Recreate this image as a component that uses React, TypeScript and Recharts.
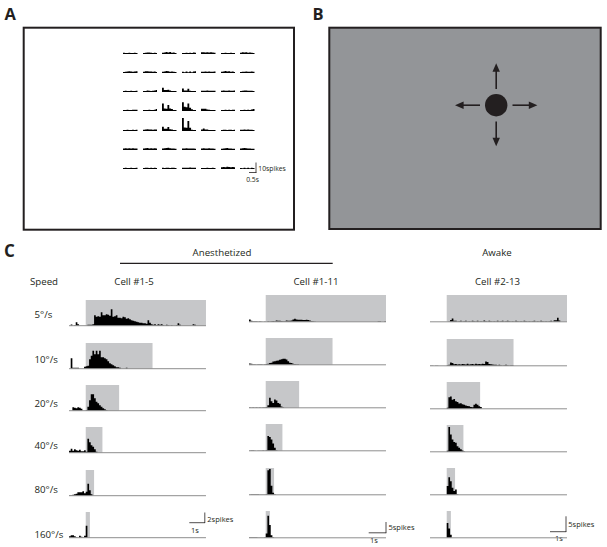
import React from "react";
import { ComposedChart, Area, XAxis, YAxis, ReferenceArea, ReferenceLine } from "recharts";

// ---------- Panel C data ----------
const SPEED_LABELS = ["5°/s", "10°/s", "20°/s", "40°/s", "80°/s", "160°/s"];
const STIM_DURATION_S = [7.2, 4, 2, 1, 0.5, 0.25];
const CELL_NAMES = ["Cell #1-5", "Cell #1-11", "Cell #2-13"];
const CONDITION_LABELS = ["Anesthetized", "Awake"];
const SCALE_LABELS = ["2spikes", "5spikes", "5spikes"];
const BIN_S = 0.1;
const PRE_S = -1;
const WINDOW_END_S = 7.2;

// Cell #1-5 (spikes per 0.1 s bin, starting at -1 s)
const cellA_5 = [0, 0.25, 0, 0.1, 0.7, 0.3, 0, 0, 0, 0, 0, 0.2, 0.2, 0.2, 0.3, 2.1, 1.8, 1.9, 1.8, 2.7, 2.1, 2.1, 2.3, 2.2, 2.0, 3.3, 1.8, 1.9, 2.1, 1.6, 1.6, 1.5, 1.8, 1.7, 1.4, 1.5, 1.3, 1.1, 1.0, 0.9, 0.8, 0.7, 0.6, 0.6, 0.5, 0.5, 0.4, 1.1, 0.6, 0.3, 0.2, 0.3, 0.1, 0.3, 0.2, 0.3, 0.1, 0, 0.2, 0.1, 0, 0.1, 0, 0, 0.1, 0.5, 0.2, 0, 0, 0, 0, 0, 0, 0, 0.3, 0.2];
const cellA_10 = [0, 2.1, 0.2, 0.2, 0.2, 0.2, 0, 0, 0, 0.4, 0.5, 0.6, 1.9, 2.6, 3.6, 2.9, 3.6, 2.9, 3.6, 2.3, 2.3, 2.1, 1.9, 1.5, 1.1, 0.9, 0.7, 0.5, 0.3, 0.3, 0.2, 0, 0, 0, 0.2];
const cellA_20 = [0, 0, 0.7, 0.6, 0.5, 0.7, 0.6, 0.4, 0, 0, 0.1, 0.8, 2.1, 3.3, 3.3, 2.5, 1.8, 1.5, 1.1, 0.8, 0.5, 0.3, 0.1];
const cellA_40 = [0.4, 0.8, 0.4, 0.7, 0.5, 0.4, 0.6, 0.3, 0.3, 0.5, 0.2, 2.8, 2.1, 1.5, 1.2, 0.7, 0.2];
const cellA_80 = [0.1, 0.1, 0.2, 0.3, 0.4, 0.7, 0.7, 0.7, 0.9, 0.5, 0.8, 2.4, 1.1, 0.3];
const cellA_160 = [0.3, 0.5, 0.5, 0.3, 0.1, 0, 0.4, 0.2, 0.1, 0.4, 2.4, 0];

// Cell #1-11
const cellB_5 = [1.1, 0.5, 0.3, 0.3, 0.2, 0.1, 0.2, 0.1, 0, 0.1, 0, 0.2, 0.1, 0.2, 0.4, 0.3, 0.6, 0.5, 0.5, 0.4, 0.3, 0.3, 0.6, 0.5, 0.5, 0.6, 1.1, 1.4, 1.1, 1.0, 0.9, 0.9, 0.8, 0.8, 0.9, 0.8, 0.6, 0.4, 0.2, 0.1, 0, 0, 0, 0, 0, 0, 0, 0, 0, 0, 0, 0, 0, 0, 0, 0, 0, 0, 0, 0, 0, 0, 0, 0, 0, 0, 0, 0, 0, 0, 0, 0, 0, 0, 0, 0, 0, 0.3, 0.2, 0, 0, 0.3];
const cellB_10 = [0.6, 0.5, 0.3, 0.3, 0.1, 0.2, 0.3, 0.3, 0.1, 0.2, 0.4, 0.5, 0.8, 1.0, 1.5, 1.7, 1.9, 2.0, 2.4, 2.6, 2.8, 2.8, 2.5, 1.6, 1.0, 0.8, 0.5, 0.4, 0.3, 0.2];
const cellB_20 = [0.2, 0.1, 0.2, 0.1, 0.2, 0.1, 0.2, 0.1, 0.3, 0.2, 0.4, 1.2, 4.7, 3.1, 2.3, 3.9, 3.4, 2.3, 1.9, 0.6, 0.2];
const cellB_40 = [0.1, 0.2, 0.2, 0.1, 0, 0.1, 0.1, 0.1, 0.2, 0.1, 0.3, 6.9, 6.4, 5.3, 3.4, 1.4, 0.3];
const cellB_80 = [0.1, 0.3, 0.3, 0.3, 0.3, 0.2, 0.1, 0.1, 0.1, 0.1, 0.3, 11.5, 12.0, 4.2, 1.0, 0.2];
const cellB_160 = [0.3, 0.3, 0.3, 0.3, 0.2, 0.1, 0.1, 0.1, 0.1, 0.2, 2.0, 10.3, 6.0, 1.2, 0.2];

// Cell #2-13
const cellC_5 = [0, 0, 0, 0, 0, 0, 0, 0, 0, 0, 0, 0.1, 0.6, 1.1, 0.3, 0.3, 0.1, 0.2, 0.3, 0.1, 0.2, 0.3, 0.1, 0.2, 0.1, 0.3, 0.2, 0.1, 0.3, 0.1, 0.2, 0.1, 0.4, 0.2, 0.1, 0.3, 0.2, 0.1, 0.2, 0.1, 0.3, 0.1, 0.2, 0.3, 0.1, 0.2, 0.3, 0.2, 0.1, 0.2, 0.1, 0.3, 0.2, 0.1, 0.2, 0.1, 0.3, 0.2, 0.1, 0.2, 0.1, 0.2, 0.3, 0.1, 0.2, 0.1, 0.3, 0.2, 0.1, 0.2, 0.1, 0.2, 0.3, 0.1, 0.5, 0.5, 1.3, 0.4];
const cellC_10 = [0.1, 0.1, 0, 0.1, 0.1, 0, 0, 0, 0, 0, 0.2, 0.3, 1.1, 0.9, 0.5, 0.6, 0.4, 0.5, 0.4, 0.6, 0.5, 0.4, 0.7, 0.4, 0.5, 0.6, 0.4, 0.7, 0.5, 0.6, 0.5, 0.7, 0.6, 1.4, 1.2, 0.6, 0.5, 0.4, 0.3, 0.3, 0.2, 0.3, 0.2, 0.1, 0.2, 0.3, 0.2, 0.1, 0.2, 0.2];
const cellC_20 = [0, 0, 0, 0, 0, 0, 0, 0, 0, 0, 0.3, 3.7, 4.0, 2.9, 3.2, 2.4, 2.2, 1.7, 1.8, 1.5, 1.3, 1.1, 0.9, 0.8, 0.6, 0.5, 1.3, 1.6, 1.3, 0.8, 0.6];
const cellC_40 = [0, 0, 0, 0, 0, 0, 0, 0, 0, 0, 0.3, 8.0, 5.6, 4.0, 3.2, 2.9, 1.8, 1.3, 0.8, 0.4, 0.2];
const cellC_80 = [0, 0, 0, 0, 0, 0, 0, 0, 0, 0, 2.8, 5.7, 4.4, 2.3, 1.2, 1.7, 0.2];
const cellC_160 = [0, 0, 0, 0, 0, 0, 0, 0, 0, 0, 4.8, 3.0, 1.0];

const CELL_A = [cellA_5, cellA_10, cellA_20, cellA_40, cellA_80, cellA_160];
const CELL_B = [cellB_5, cellB_10, cellB_20, cellB_40, cellB_80, cellB_160];
const CELL_C = [cellC_5, cellC_10, cellC_20, cellC_40, cellC_80, cellC_160];

// ---------- Panel A data (7x7 grid of mini PSTHs, 8 bins each, spikes) ----------
const GRID_ROW1 = [[1.2, 1.1, 1.1, 1.3, 1.1, 1.1, 1.3, 1.1], [1.1, 1.3, 1.6, 1.5, 1.3, 1.1, 1.3, 1.1], [1.3, 1.6, 2.1, 1.5, 1.9, 1.3, 1.5, 1.1], [1.1, 1.1, 1.3, 1.1, 1.3, 1.1, 1.5, 1.3], [1.8, 1.8, 1.5, 1.8, 1.6, 1.7, 1.5, 1.3], [1.1, 1.1, 1.3, 1.1, 1.1, 1.3, 1.1, 1.1], [1.3, 1.8, 1.5, 1.7, 1.3, 1.6, 1.3, 1.1]];
const GRID_ROW2 = [[1.1, 1.3, 1.5, 1.8, 1.5, 1.3, 1.6, 1.8], [1.3, 1.8, 1.8, 1.5, 1.6, 1.3, 1.5, 1.1], [1.3, 1.5, 2.1, 1.8, 1.3, 1.6, 1.3, 1.1], [1.3, 0.8, 1.5, 0.8, 1.6, 0.8, 1.5, 1.8], [1.3, 1.3, 1.4, 1.3, 1.5, 1.3, 1.3, 1.5], [1.3, 1.6, 2.1, 1.5, 1.7, 1.3, 1.5, 1.1], [1.1, 1.3, 1.3, 1.5, 1.3, 1.3, 1.5, 1.3]];
const GRID_ROW3 = [[1.1, 1.3, 1.1, 1.1, 1.3, 1.1, 1.1, 1.3], [1.1, 1.1, 1.5, 1.3, 1.1, 1.3, 1.5, 2.1], [4.2, 2, 2, 2.3, 1.6, 1.1, 1, 1], [3.5, 1.5, 1.5, 3.2, 1.3, 1.1, 1, 1], [1.3, 1.3, 1.3, 1.4, 1.3, 1.3, 1.3, 1.3], [1.3, 1.5, 1.3, 1.3, 1.5, 1.3, 1.3, 1.5], [1.1, 1.3, 1.5, 1.6, 1.3, 1.3, 1.3, 1.1]];
const GRID_ROW4 = [[1.1, 1.1, 1.3, 1.1, 1.1, 1.3, 1.3, 1.3], [1.1, 1.1, 1.1, 1.3, 1.1, 1.1, 1.3, 2.1], [7.5, 2.6, 2.3, 5.9, 2.6, 2, 1.1, 1], [8.7, 4.2, 3.7, 7.5, 3.2, 1.8, 1.1, 1], [2.3, 2.3, 2.3, 1.6, 1.3, 1.1, 1, 1], [1.1, 1.1, 1.3, 1.1, 1.3, 1.1, 1.3, 1.3], [1.1, 1.1, 1.3, 1.1, 1.3, 1.1, 1.5, 2.1]];
const GRID_ROW5 = [[1.1, 1.1, 1.3, 1.1, 1.1, 1.3, 1.1, 1.3], [1.3, 1.5, 1.8, 1.5, 1.6, 1.3, 1.5, 1.5], [4.2, 2.3, 2.3, 3.9, 1.8, 1.6, 1.1, 1], [13, 3.5, 3.2, 10, 3.2, 1.3, 1.1, 1], [1.6, 2.6, 1.6, 1.6, 1.1, 1, 1, 1], [1.1, 1.3, 1.3, 1.1, 1.3, 1.3, 1.1, 1.3], [1.3, 1.3, 1.5, 1.3, 1.5, 1.3, 1.3, 1.1]];
const GRID_ROW6 = [[1.5, 1.8, 1.6, 1.8, 1.5, 1.8, 1.6, 1.5], [1.6, 1.8, 2.1, 1.6, 1.8, 1.5, 1.8, 1.5], [1.5, 1.8, 2.1, 2.3, 1.8, 1.6, 1.5, 1.3], [1.5, 1.6, 1.8, 1.6, 1.5, 1.6, 1.5, 1.3], [1.5, 1.8, 1.6, 1.5, 1.8, 1.6, 1.5, 1.3], [1.3, 1.5, 1.8, 2.1, 1.6, 1.5, 1.3, 1.3], [1.5, 1.8, 2.1, 1.8, 1.6, 1.5, 1.3, 1.3]];
const GRID_ROW7 = [[1.1, 1.3, 1.1, 1.1, 1.3, 1.1, 1.1, 1.3], [1.1, 1.3, 1.3, 1.1, 1.3, 1.1, 1.3, 1.1], [1.3, 1.1, 1.3, 1.3, 1.1, 1.3, 1.3, 1.1], [1.3, 1.3, 1.3, 1.3, 1.5, 1.3, 1.3, 1.3], [1.1, 1.1, 1.1, 1.3, 1.1, 1.1, 1.3, 1.1], [1.8, 2.1, 1.8, 2.3, 2.1, 1.8, 2.1, 1.8], [1.1, 0.8, 1.3, 0.8, 1.3, 0.8, 1.3, 1.1]];
const GRID = [GRID_ROW1, GRID_ROW2, GRID_ROW3, GRID_ROW4, GRID_ROW5, GRID_ROW6, GRID_ROW7];
const GRID_SCALE_LABELS = ["10spikes", "0.5s"];

// ---------- layout ----------
const FONT = "'Open Sans', sans-serif";
const INK = "#231f20";
const COLS = [
  { left: 69.3, baselines: [326, 368.3, 411, 452.7, 495.3, 537.3], boxH: 25.7, pxPerSpike: 5 },
  { left: 248.7, baselines: [321.3, 364.7, 408, 450.7, 495, 538], boxH: 26.8, pxPerSpike: 2.14 },
  { left: 430, baselines: [322, 365.3, 408.7, 452, 495, 538], boxH: 26.8, pxPerSpike: 3.1 },
];
const PSTH_W = 137;

function Psth({ values, dur, left, baseline, boxH, ymax }: any) {
  const data = values.map((v: number, i: number) => ({ t: PRE_S + i * BIN_S, v }));
  data.push({ t: PRE_S + values.length * BIN_S, v: 0 });
  return (
    <div style={{ position: "absolute", left, top: baseline - boxH }}>
      <ComposedChart width={PSTH_W} height={boxH + 2} data={data} margin={{ top: 0, right: 0, bottom: 2, left: 0 }}>
        <XAxis type="number" dataKey="t" domain={[PRE_S, WINDOW_END_S]} hide allowDataOverflow />
        <YAxis type="number" domain={[0, ymax]} hide allowDataOverflow />
        <ReferenceArea x1={0} x2={dur} y1={0} y2={ymax} fill="#c6c7c9" fillOpacity={1} stroke="none" />
        <ReferenceLine y={0} stroke="#8e8e8e" strokeWidth={1} />
        <Area type="stepAfter" dataKey="v" stroke="none" fill="#000" fillOpacity={1} isAnimationActive={false} dot={false} activeDot={false} />
      </ComposedChart>
    </div>
  );
}

function MiniPsth({ values, left, baseline }: any) {
  const data = values.map((v: number, i: number) => ({ t: i, v }));
  data.push({ t: values.length, v: 0 });
  const h = 15;
  return (
    <div style={{ position: "absolute", left, top: baseline - h }}>
      <ComposedChart width={14.5} height={h} data={data} margin={{ top: 0, right: 0, bottom: 0, left: 0 }}>
        <XAxis type="number" dataKey="t" domain={[0, values.length]} hide />
        <YAxis type="number" domain={[0, 15]} hide allowDataOverflow />
        <Area type="stepAfter" dataKey="v" stroke="none" fill="#000" fillOpacity={1} isAnimationActive={false} dot={false} activeDot={false} />
      </ComposedChart>
    </div>
  );
}

const SPEED_LABEL_Y = [318.3, 362.7, 406.7, 449.3, 492.7, 538.3];
const CELL_LABEL_X = [134, 316, 497.5];

export default function App() {
  const cellsData = [CELL_A, CELL_B, CELL_C];
  return (
    <div style={{ position: "absolute", left: 0, top: 0, width: 607, height: 547, background: "#fff", overflow: "hidden" }}>
      <svg width={607} height={547} style={{ position: "absolute", left: 0, top: 0 }} fontFamily={FONT}>
        {/* Panel labels */}
        <text x={4.5} y={20} fontSize={16.5} fontWeight={700} fill={INK}>A</text>
        <text x={312.5} y={20} fontSize={16.5} fontWeight={700} fill={INK}>B</text>
        <text x={4} y={257} fontSize={17} fontWeight={700} fill={INK}>C</text>

        {/* Panel A frame */}
        <rect x={23.7} y={27.7} width={270.3} height={202} fill="#fff" stroke={INK} strokeWidth={2} />
        {/* Panel A scale bar */}
        <line x1={256} y1={162.5} x2={256} y2={172.8} stroke={INK} strokeWidth={0.8} />
        <line x1={249} y1={172.5} x2={256.4} y2={172.5} stroke={INK} strokeWidth={0.8} />
        <text x={258.3} y={170.6} fontSize={6.8} fill={INK}>{GRID_SCALE_LABELS[0]}</text>
        <text x={252.6} y={181.6} fontSize={6.8} fill={INK} textAnchor="middle">{GRID_SCALE_LABELS[1]}</text>

        {/* Panel B */}
        <rect x={329.3} y={27.7} width={271.4} height={201.3} fill="#939598" stroke={INK} strokeWidth={2} />
        <circle cx={496.2} cy={105.2} r={11.2} fill={INK} />
        <line x1={496.2} y1={89} x2={496.2} y2={70} stroke={INK} strokeWidth={1.6} />
        <polygon points="496.2,63.3 492.5,71.8 499.9,71.8" fill={INK} />
        <line x1={496.2} y1={121.4} x2={496.2} y2={139} stroke={INK} strokeWidth={1.6} />
        <polygon points="496.2,146.2 492.5,137.8 499.9,137.8" fill={INK} />
        <line x1={480} y1={105.2} x2={462} y2={105.2} stroke={INK} strokeWidth={1.6} />
        <polygon points="455,105.2 463.6,101.5 463.6,108.9" fill={INK} />
        <line x1={512.5} y1={105.2} x2={530} y2={105.2} stroke={INK} strokeWidth={1.6} />
        <polygon points="537.4,105.2 528.8,101.5 528.8,108.9" fill={INK} />

        {/* Panel C headers */}
        <text x={222} y={255.6} fontSize={9.7} fill={INK} textAnchor="middle">{CONDITION_LABELS[0]}</text>
        <line x1={120} y1={263.3} x2={332.7} y2={263.3} stroke={INK} strokeWidth={1.3} />
        <text x={497} y={255.6} fontSize={9.7} fill={INK} textAnchor="middle">{CONDITION_LABELS[1]}</text>
        <text x={30} y={285.2} fontSize={9.7} fill={INK}>Speed</text>
        {CELL_NAMES.map((n, i) => (
          <text key={n} x={CELL_LABEL_X[i]} y={285.2} fontSize={9.7} fill={INK} textAnchor="middle">{n}</text>
        ))}
        {SPEED_LABELS.map((s, i) => (
          <text key={s} x={34.5} y={SPEED_LABEL_Y[i]} fontSize={9.7} fill={INK}>{s}</text>
        ))}

        {/* Panel C scale bars */}
        <line x1={189.3} y1={522.7} x2={205} y2={522.7} stroke={INK} strokeWidth={0.8} />
        <line x1={204.8} y1={512.5} x2={204.8} y2={523} stroke={INK} strokeWidth={0.8} />
        <text x={207.3} y={521.7} fontSize={7.5} fill={INK}>{SCALE_LABELS[0]}</text>
        <text x={195} y={532.5} fontSize={7.5} fill={INK} textAnchor="middle">1s</text>

        <line x1={368.7} y1={532.8} x2={386.2} y2={532.8} stroke={INK} strokeWidth={0.8} />
        <line x1={386} y1={522} x2={386} y2={533.1} stroke={INK} strokeWidth={0.8} />
        <text x={388.5} y={530.4} fontSize={7.5} fill={INK}>{SCALE_LABELS[1]}</text>
        <text x={374} y={542.7} fontSize={7.5} fill={INK} textAnchor="middle">1s</text>

        <line x1={550} y1={531.7} x2={566.2} y2={531.7} stroke={INK} strokeWidth={0.8} />
        <line x1={566} y1={516.3} x2={566} y2={532} stroke={INK} strokeWidth={0.8} />
        <text x={568.3} y={526.7} fontSize={7.5} fill={INK}>{SCALE_LABELS[2]}</text>
        <text x={559} y={541.2} fontSize={7.5} fill={INK} textAnchor="middle">1s</text>
      </svg>

      {GRID.map((row, r) =>
        row.map((vals, c) => (
          <MiniPsth key={`g${r}-${c}`} values={vals} left={123 + c * 19.5} baseline={53.5 + r * 19.33} />
        ))
      )}

      {cellsData.map((cell, ci) =>
        cell.map((vals, ri) => (
          <Psth
            key={`c${ci}-${ri}`}
            values={vals}
            dur={STIM_DURATION_S[ri]}
            left={COLS[ci].left}
            baseline={COLS[ci].baselines[ri]}
            boxH={COLS[ci].boxH}
            ymax={COLS[ci].boxH / COLS[ci].pxPerSpike}
          />
        ))
      )}
    </div>
  );
}
